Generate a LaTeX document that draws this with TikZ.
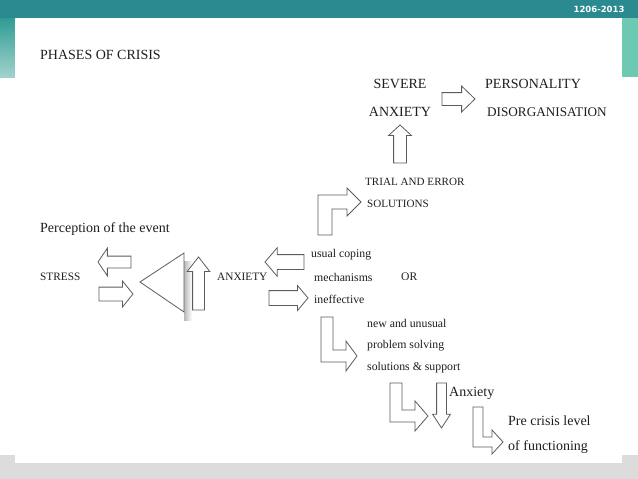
\documentclass[tikz,border=0pt]{standalone}
\usepackage{fontspec}
\setmainfont{Liberation Serif}
\newfontfamily\datefont{DejaVu Sans}
\usetikzlibrary{shapes.arrows}
\definecolor{barteal}{HTML}{2A8A8F}
\definecolor{sideteal}{HTML}{6EC9B2}
\definecolor{leftteal}{HTML}{2F9C93}
\definecolor{footgray}{HTML}{DCDCDC}
\definecolor{inkgray}{HTML}{1E1E1E}
\definecolor{edgegray}{HTML}{5C5C5C}

\begin{document}
\begin{tikzpicture}[
    x=1pt, y=-1pt,
    txt/.style={inner sep=0pt, anchor=west, text=inkgray},
    sm/.style={txt, font=\fontsize{11.8}{14}\selectfont},
    lg/.style={txt, font=\fontsize{14}{16}\selectfont},
    blk/.style args={#1/#2/#3}{single arrow, draw=edgegray, fill=white, line width=0.8pt, inner xsep=0pt, inner ysep=#1, minimum width=0pt, single arrow head extend=#2, single arrow tip angle=#3, outer sep=0pt, anchor=tip},
    pics/bent/.style args={#1/#2/#3/#4/#5}{code={
        \draw[draw=edgegray, fill=white, line width=0.8pt] (0,0) -- (#1,0) -- (#1,#2-#1) -- (#3,#2-#1) -- (#3,#2-#1-#4) -- (#3+#5,#2-#1/2) -- (#3,#2+#4) -- (#3,#2) -- (0,#2) -- cycle;}}
]
\useasboundingbox (0,0) rectangle (638,479);
\fill[footgray] (0,455) rectangle (638,479);
\fill[barteal] (0,0) rectangle (638,18);
\shade[top color=leftteal, bottom color=leftteal!45] (0,18) rectangle (15,77);
\fill[sideteal] (622,18) rectangle (638,77);
\fill[white] (15,20) rectangle (622,463);
\node[anchor=east, text=white, font=\datefont\bfseries\fontsize{8.5}{10}\selectfont] (date) at (628,9) {1206-2013};

\node[lg] (title) at (40,55) {PHASES OF CRISIS};
\node[lg] (percep) at (40,229) {Perception of the event};
\node[txt, font=\fontsize{11.3}{13}\selectfont] (stress) at (40,277) {STRESS};
\node[txt, font=\fontsize{11.3}{13}\selectfont] (anx) at (217,277) {ANXIETY};

\node[blk=5.5/8/112, minimum height=33, rotate=180] (s1) at (98,262) {};
\node[blk=6.5/6/102, minimum height=34] (s2) at (133,294) {};
\shade[left color=black!28, right color=white] (184,261) rectangle (192,320);
\draw[draw=edgegray, fill=white, line width=0.8pt] (140,282) -- (184,253) -- (184,312) -- cycle;
\node[blk=5.5/5.5/76, minimum height=53, rotate=90] (a1) at (198.5,257) {};

\node[blk=7/7/99, minimum height=39, rotate=180] (c1) at (265,262) {};
\node[blk=7/5/100, minimum height=39] (c2) at (308,298) {};
\node[sm] (usual) at (311,255) {usual coping};
\node[sm] (mech) at (314,277) {mechanisms};
\node[txt, font=\fontsize{11.6}{14}\selectfont] (or) at (401,277) {OR};
\node[sm] (ineff) at (314,299) {ineffective};

\pic[yscale=-1] (up) at (318,235) {bent=14/40/29/7/14};
\node[txt, font=\fontsize{11.1}{13}\selectfont] (trial) at (365,182) {TRIAL AND ERROR};
\node[txt, font=\fontsize{11.1}{13}\selectfont] (sol) at (367,204) {SOLUTIONS};
\node[blk=6/5/95, minimum height=38, rotate=90] (t1) at (400,125) {};
\node[lg, anchor=center] (severe) at (400,83.5) {SEVERE};
\node[lg, anchor=center] (sevanx) at (400,112) {ANXIETY};
\node[blk=6/6.5/88, minimum height=33] (p1) at (475,99) {};
\node[lg] (pers) at (485,83.5) {PERSONALITY};
\node[lg, font=\fontsize{13.2}{16}\selectfont] (disorg) at (487,112) {DISORGANISATION};

\pic (dn1) at (321,317) {bent=12/45/25/9/11};
\node[sm] (newun) at (367,323) {new and unusual};
\node[sm] (prob) at (367,346) {problem solving};
\node[sm] (supp) at (367,368) {solutions \& support};

\pic (dn2) at (390,383) {bent=12/39/25/9/13};
\node[blk=4.5/4/66, minimum height=45, rotate=270] (d1) at (441.5,428) {};
\node[lg] (anx2) at (449,393) {Anxiety};
\pic (dn3) at (473,407) {bent=10/40/19/7/11};
\node[lg] (pre) at (508,421) {Pre crisis level};
\node[lg] (func) at (508,447) {of functioning};
\end{tikzpicture}
\end{document}
